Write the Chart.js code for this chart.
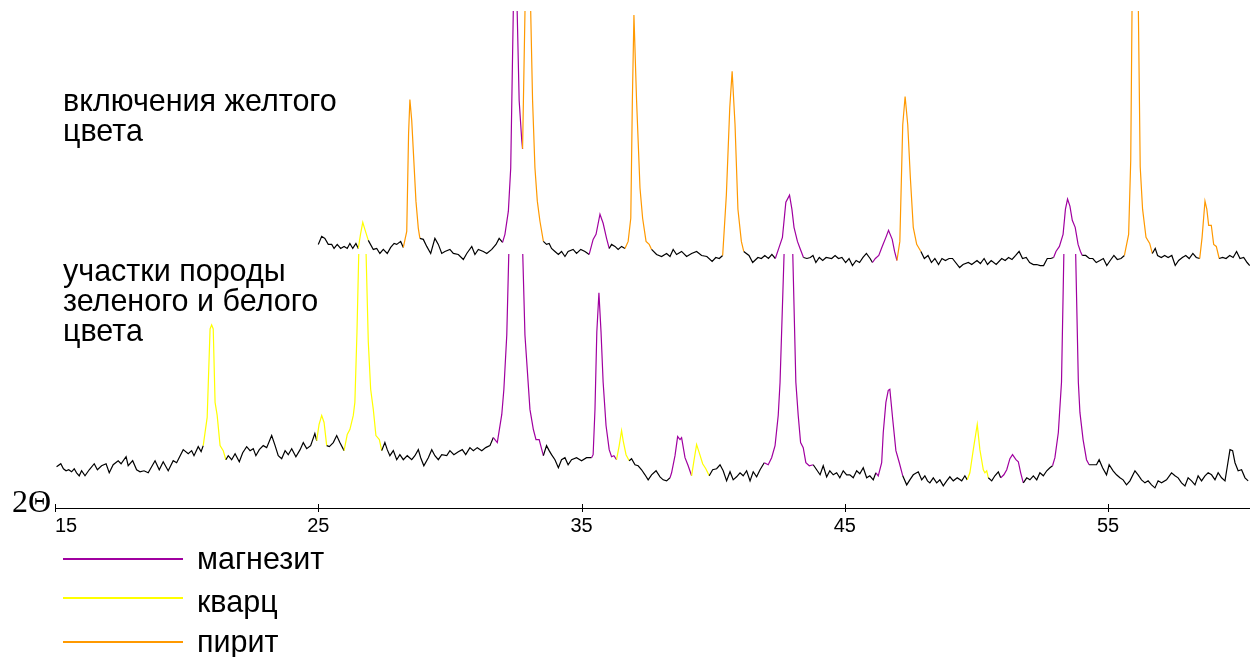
<!DOCTYPE html>
<html>
<head>
<meta charset="utf-8">
<script src="https://cdn.jsdelivr.net/npm/chart.js@4.4.1/dist/chart.umd.min.js"></script>
<style>
    body { margin: 0; background: #fff; }
    #wrap { position: relative; width: 1250px; height: 657px; overflow: hidden; }
    #xrd { position: absolute; left: 0; top: 0; }
    .lbl { position: absolute; font-family: "Liberation Sans", Arial, sans-serif; font-size: 30.5px; line-height: 30px; color: #000; white-space: nowrap; }
    .axisName { position: absolute; left: 12px; top: 486px; font-family: "Liberation Serif", "Times New Roman", serif; font-size: 32px; line-height: 30px; }
    .key { position: absolute; left: 63px; width: 120px; height: 2px; }
</style>
</head>
<body>
<div id="wrap">
    <canvas id="xrd" width="1250" height="657"></canvas>
    <div class="lbl" style="left:63px; top:85px">включения желтого<br>цвета</div>
    <div class="lbl" style="left:63px; top:255px">участки породы<br>зеленого и белого<br>цвета</div>
    <div class="axisName">2&Theta;</div>
    <div class="key" id="key0" style="top:558px"></div>
    <div class="lbl" style="left:197px; top:543px">магнезит</div>
    <div class="key" id="key1" style="top:597px"></div>
    <div class="lbl" style="left:197px; top:586px">кварц</div>
    <div class="key" id="key2" style="top:641px"></div>
    <div class="lbl" style="left:197px; top:626px">пирит</div>
</div>
<script>
// 2-theta tick labels
const tickValues = [15, 25, 35, 45, 55];

const minerals = ['магнезит', 'кварц', 'пирит'];

// lower pattern: green and white rock
const lowerAngle = [
    15.06, 15.22, 15.32, 15.42, 15.52, 15.63, 15.73, 15.82, 15.92, 16.01,
    16.14, 16.30, 16.49, 16.61, 16.77, 16.94, 17.06, 17.21, 17.40, 17.51,
    17.70, 17.78, 17.95, 18.10, 18.23, 18.38, 18.54, 18.80, 18.96, 19.11,
    19.30, 19.49, 19.62, 19.87, 20.06, 20.19, 20.28, 20.44, 20.55, 20.63,
    20.78, 20.89, 20.95, 21.01, 21.08, 21.16, 21.27, 21.39, 21.49, 21.58,
    21.71, 21.84, 22.00, 22.13, 22.28, 22.41, 22.53, 22.63, 22.76, 22.91,
    23.04, 23.23, 23.36, 23.48, 23.61, 23.74, 23.86, 23.99, 24.15, 24.31,
    24.43, 24.56, 24.71, 24.87, 24.94, 25.03, 25.13, 25.22, 25.32, 25.42,
    25.57, 25.70, 25.82, 25.98, 26.10, 26.20, 26.33, 26.39, 26.47, 26.67,
    26.90, 26.99, 27.09, 27.19, 27.32, 27.41, 27.53, 27.62, 27.72, 27.85,
    27.98, 28.10, 28.23, 28.38, 28.55, 28.67, 28.80, 28.89, 29.01, 29.18,
    29.31, 29.43, 29.56, 29.69, 29.88, 30.00, 30.15, 30.32, 30.47, 30.60,
    30.76, 30.89, 31.04, 31.21, 31.36, 31.52, 31.65, 31.80, 31.97, 32.05,
    32.16, 32.49, 32.85, 33.04, 33.17, 33.27, 33.39, 33.55, 33.67, 33.77,
    33.86, 33.99, 34.12, 34.24, 34.37, 34.49, 34.62, 34.81, 35.00, 35.19,
    35.38, 35.44, 35.51, 35.58, 35.66, 35.74, 35.82, 35.93, 36.05, 36.14,
    36.23, 36.33, 36.43, 36.52, 36.58, 36.69, 36.81, 36.90, 37.03, 37.15,
    37.28, 37.41, 37.53, 37.66, 37.83, 37.98, 38.10, 38.23, 38.36, 38.42,
    38.55, 38.65, 38.74, 38.80, 38.93, 39.05, 39.18, 39.27, 39.37, 39.47,
    39.60, 39.72, 39.85, 39.98, 40.13, 40.26, 40.38, 40.51, 40.64, 40.76,
    40.89, 41.02, 41.14, 41.27, 41.40, 41.52, 41.65, 41.78, 41.94, 42.09,
    42.22, 42.35, 42.47, 42.54, 42.88, 43.14, 43.23, 43.32, 43.42, 43.52,
    43.65, 43.80, 43.93, 44.06, 44.18, 44.31, 44.43, 44.56, 44.69, 44.81,
    44.94, 45.07, 45.19, 45.32, 45.45, 45.57, 45.70, 45.83, 45.95, 46.08,
    46.18, 46.27, 46.40, 46.46, 46.56, 46.65, 46.71, 46.82, 46.94, 47.07,
    47.20, 47.35, 47.47, 47.60, 47.79, 47.92, 48.04, 48.14, 48.23, 48.36,
    48.49, 48.61, 48.74, 48.87, 48.99, 49.12, 49.27, 49.44, 49.56, 49.65,
    49.75, 49.88, 50.03, 50.13, 50.26, 50.32, 50.39, 50.45, 50.58, 50.70,
    50.83, 50.92, 51.04, 51.15, 51.27, 51.37, 51.50, 51.59, 51.68, 51.78,
    51.91, 52.03, 52.16, 52.29, 52.41, 52.54, 52.67, 52.79, 52.89, 52.98,
    53.11, 53.23, 53.53, 53.87, 53.93, 54.05, 54.18, 54.28, 54.43, 54.56,
    54.66, 54.79, 54.94, 55.04, 55.19, 55.32, 55.45, 55.57, 55.70, 55.83,
    56.02, 56.14, 56.27, 56.40, 56.52, 56.65, 56.78, 56.90, 57.03, 57.22,
    57.41, 57.54, 57.66, 57.79, 57.92, 58.04, 58.17, 58.30, 58.42, 58.55,
    58.68, 58.80, 58.93, 59.06, 59.18, 59.31, 59.44, 59.52, 59.63, 59.73,
    59.82, 59.94, 60.07, 60.20, 60.32
];
const lowerIntensity = [
    41, 44, 39, 37, 38, 36, 39, 35, 32, 37,
    32, 38, 44, 38, 42, 44, 35, 43, 47, 44,
    51, 42, 47, 38, 36, 37, 35, 47, 38, 46,
    37, 47, 45, 58, 54, 57, 52, 61, 56, 62,
    90, 178, 182, 178, 105, 92, 62, 57, 48, 52,
    48, 54, 46, 55, 61, 57, 59, 52, 58, 62,
    60, 72, 62, 52, 49, 57, 53, 59, 51, 58,
    65, 59, 62, 74, 67, 83, 92, 85, 62, 61,
    65, 72, 65, 57, 73, 78, 92, 105, 175, 405,
    165, 118, 98, 72, 68, 57, 65, 58, 52, 57,
    48, 53, 48, 52, 48, 52, 58, 50, 42, 50,
    58, 52, 48, 53, 52, 57, 53, 56, 58, 53,
    60, 57, 60, 57, 60, 62, 70, 65, 93, 118,
    172, 520, 172, 98, 78, 68, 68, 52, 62, 57,
    53, 48, 40, 48, 50, 43, 48, 50, 47, 50,
    50, 53, 98, 175, 214, 175, 125, 82, 58, 51,
    52, 48, 62, 77, 67, 53, 47, 49, 43, 42,
    38, 33, 28, 33, 37, 31, 28, 27, 30, 35,
    52, 71, 68, 70, 50, 42, 32, 47, 63, 55,
    44, 39, 32, 38, 39, 43, 37, 27, 36, 28,
    31, 35, 32, 37, 27, 36, 31, 38, 45, 43,
    50, 62, 92, 125, 409, 125, 92, 65, 60, 45,
    42, 43, 38, 33, 42, 31, 37, 33, 35, 30,
    37, 33, 33, 30, 37, 34, 40, 30, 32, 28,
    35, 32, 45, 75, 105, 117, 118, 88, 57, 45,
    32, 23, 28, 33, 36, 28, 32, 27, 25, 30,
    25, 28, 22, 27, 31, 27, 30, 27, 32, 28,
    35, 58, 83, 58, 38, 35, 37, 30, 27, 32,
    36, 30, 33, 38, 49, 53, 48, 46, 35, 25,
    30, 28, 32, 28, 35, 32, 37, 40, 42, 50,
    75, 125, 552, 125, 95, 68, 48, 43, 43, 43,
    48, 40, 33, 43, 37, 33, 30, 28, 23, 27,
    37, 33, 28, 25, 27, 23, 20, 27, 25, 28,
    35, 32, 30, 25, 22, 30, 27, 23, 32, 27,
    32, 35, 33, 28, 35, 30, 27, 40, 58, 57,
    45, 37, 38, 30, 27
];
const lowerPhases = [
    ['кварц', 20.63, 21.49], ['кварц', 24.94, 25.32], ['кварц', 25.98, 27.41],
    ['магнезит', 31.65, 33.55], ['магнезит', 35.38, 36.33], ['кварц', 36.33, 36.81],
    ['магнезит', 38.36, 39.18], ['кварц', 39.18, 39.85], ['магнезит', 41.94, 43.80],
    ['магнезит', 46.18, 47.20], ['кварц', 49.65, 50.45], ['магнезит', 50.92, 51.78],
    ['магнезит', 52.89, 54.28]
];

// upper pattern: yellow inclusions (shifted up)
const upperAngle = [
    25.00, 25.13, 25.25, 25.38, 25.51, 25.60, 25.72, 25.85, 25.98, 26.10,
    26.20, 26.31, 26.43, 26.52, 26.61, 26.69, 26.77, 26.90, 27.09, 27.22,
    27.34, 27.47, 27.62, 27.75, 27.88, 27.98, 28.13, 28.23, 28.36, 28.43,
    28.48, 28.55, 28.63, 28.71, 28.80, 28.86, 28.99, 29.12, 29.27, 29.43,
    29.56, 29.69, 29.81, 30.00, 30.13, 30.32, 30.51, 30.64, 30.83, 30.95,
    31.08, 31.27, 31.40, 31.59, 31.75, 31.87, 32.00, 32.09, 32.22, 32.31,
    32.47, 32.63, 32.73, 32.76, 32.95, 33.14, 33.23, 33.32, 33.42, 33.55,
    33.67, 33.77, 33.86, 33.99, 34.12, 34.24, 34.37, 34.49, 34.68, 34.81,
    34.97, 35.13, 35.29, 35.44, 35.55, 35.70, 35.82, 35.95, 36.05, 36.14,
    36.27, 36.39, 36.52, 36.65, 36.77, 36.87, 36.93, 36.99, 37.09, 37.22,
    37.32, 37.45, 37.57, 37.66, 37.85, 38.04, 38.23, 38.36, 38.48, 38.61,
    38.80, 38.99, 39.18, 39.37, 39.56, 39.76, 39.96, 40.10, 40.23, 40.36,
    40.50, 40.63, 40.72, 40.83, 40.94, 41.07, 41.16, 41.36, 41.50, 41.70,
    41.83, 41.96, 42.10, 42.23, 42.36, 42.49, 42.63, 42.76, 42.90, 42.99,
    43.07, 43.20, 43.30, 43.43, 43.56, 43.69, 43.79, 43.90, 44.03, 44.16,
    44.29, 44.50, 44.63, 44.76, 44.89, 45.03, 45.16, 45.29, 45.43, 45.56,
    45.69, 45.82, 45.96, 46.05, 46.16, 46.29, 46.42, 46.56, 46.66, 46.80,
    46.89, 46.98, 47.09, 47.20, 47.29, 47.39, 47.49, 47.60, 47.73, 47.89,
    48.02, 48.16, 48.29, 48.42, 48.56, 48.69, 48.82, 48.96, 49.09, 49.36,
    49.49, 49.69, 49.82, 50.02, 50.15, 50.29, 50.42, 50.56, 50.75, 50.96,
    51.09, 51.22, 51.35, 51.49, 51.62, 51.75, 51.89, 52.02, 52.16, 52.29,
    52.42, 52.55, 52.69, 52.82, 52.93, 53.02, 53.15, 53.29, 53.38, 53.46,
    53.55, 53.64, 53.75, 53.86, 53.95, 54.02, 54.15, 54.29, 54.42, 54.55,
    54.69, 54.82, 54.95, 55.08, 55.22, 55.35, 55.49, 55.62, 55.78, 55.86,
    56.01, 56.22, 56.31, 56.44, 56.58, 56.68, 56.79, 56.88, 57.02, 57.15,
    57.28, 57.42, 57.55, 57.68, 57.82, 57.95, 58.08, 58.22, 58.35, 58.48,
    58.57, 58.68, 58.75, 58.82, 58.92, 59.01, 59.11, 59.22, 59.35, 59.48,
    59.62, 59.75, 59.88, 60.01, 60.15, 60.28, 60.38
];
const upperIntensity = [
    262, 270, 268, 262, 262, 258, 262, 258, 260, 258,
    263, 258, 263, 258, 273, 284, 277, 266, 257, 258,
    253, 257, 253, 259, 263, 262, 265, 259, 275, 372,
    406, 385, 345, 305, 278, 268, 267, 260, 253, 268,
    262, 253, 255, 257, 253, 252, 247, 253, 260, 252,
    257, 255, 253, 257, 262, 268, 264, 272, 295, 338,
    594, 405, 365, 357, 641, 405, 338, 305, 285, 265,
    262, 263, 258, 255, 252, 255, 250, 255, 257, 253,
    257, 255, 252, 267, 272, 292, 283, 268, 258, 262,
    260, 257, 260, 258, 265, 288, 405, 490, 405, 318,
    288, 265, 262, 257, 252, 250, 253, 250, 257, 252,
    255, 250, 253, 255, 251, 250, 245, 249, 248, 251,
    311, 398, 434, 381, 297, 265, 255, 251, 244, 249,
    248, 251, 248, 252, 248, 258, 269, 304, 311, 297,
    279, 265, 258, 249, 248, 249, 251, 244, 249, 246,
    249, 248, 251, 248, 249, 244, 248, 241, 246, 244,
    249, 253, 248, 244, 248, 251, 260, 269, 276, 267,
    255, 246, 265, 381, 409, 381, 328, 279, 262, 255,
    248, 251, 244, 248, 242, 248, 246, 248, 248, 239,
    242, 244, 242, 246, 243, 248, 242, 246, 242, 248,
    246, 249, 247, 251, 255, 248, 249, 244, 242, 242,
    241, 241, 248, 248, 249, 255, 260, 272, 297, 307,
    300, 286, 279, 262, 255, 251, 251, 248, 248, 244,
    246, 248, 241, 246, 251, 247, 248, 251, 272, 346,
    805, 339, 297, 269, 263, 253, 258, 251, 249, 251,
    249, 251, 241, 246, 249, 251, 248, 253, 249, 248,
    269, 305, 297, 281, 281, 262, 260, 248, 249, 248,
    251, 249, 255, 248, 249, 244, 241
];
const upperPhases = [
    ['кварц', 26.52, 26.90], ['пирит', 28.23, 28.86], ['магнезит', 32.00, 32.76],
    ['пирит', 32.76, 33.55], ['магнезит', 35.29, 36.05], ['пирит', 36.65, 37.66],
    ['пирит', 40.36, 41.16], ['магнезит', 42.36, 43.43], ['магнезит', 46.05, 46.98],
    ['пирит', 46.98, 47.89], ['магнезит', 52.93, 54.02], ['пирит', 55.62, 56.68],
    ['пирит', 58.48, 59.22]
];

const mineralColors = {'магнезит': '#a000a0', 'кварц': '#ffff00', 'пирит': '#ff9900'};

for (let i = 0; i < minerals.length; i++)
    document.getElementById('key' + i).style.background = mineralColors[minerals[i]];

function phaseColor(phases, angle) {
    for (let p of phases) {
        if (angle >= p[1] && angle <= p[2])
            return mineralColors[p[0]];
    }
    return '#000000';
}

function makeTrace(angles, values, phases, clip) {
    return {
        data: angles.map((a, i) => ({x: a, y: values[i]})),
        borderColor: '#000000',
        borderWidth: 1.2,
        pointRadius: 0,
        tension: 0,
        clip: clip,
        segment: {
            borderColor: ctx => phaseColor(phases, (angles[ctx.p0DataIndex] + angles[ctx.p1DataIndex]) / 2)
        }
    };
}

// small crossing tick marks on the 2-theta axis
const tickCross = {
    id: 'tickCross',
    afterDraw(chart) {
        let xs = chart.scales.x;
        let ctx = chart.ctx;
        let y = chart.chartArea.bottom;
        ctx.save();
        ctx.strokeStyle = '#000';
        ctx.lineWidth = 1;
        for (let v of tickValues) {
            let px = Math.round(xs.getPixelForValue(v)) + 0.5;
            ctx.beginPath();
            ctx.moveTo(px, y - 4);
            ctx.lineTo(px, y + 4);
            ctx.stroke();
        }
        ctx.restore();
    }
};

new Chart(document.getElementById('xrd'), {
    type: 'line',
    data: {
        datasets: [
            makeTrace(lowerAngle, lowerIntensity, lowerPhases, {left: 0, top: -242, right: 0, bottom: 0}),
            makeTrace(upperAngle, upperIntensity, upperPhases, 1)
        ]
    },
    plugins: [tickCross],
    options: {
        responsive: false,
        animation: false,
        devicePixelRatio: 1,
        layout: {padding: {left: 55, right: 0, top: 12, bottom: 113}},
        plugins: {legend: {display: false}, tooltip: {enabled: false}},
        scales: {
            x: {
                type: 'linear',
                min: 15,
                max: 60.39,
                afterBuildTicks: scale => {
                    scale.ticks = tickValues.map(v => ({value: v}));
                },
                grid: {drawOnChartArea: false, drawTicks: false},
                border: {display: true, color: '#000', width: 1},
                ticks: {
                    padding: 6,
                    color: '#000',
                    maxRotation: 0,
                    autoSkip: false,
                    // first label sits right of its tick, as in the original
                    callback: v => v === tickValues[0] ? '    ' + v : '' + v,
                    font: {family: 'Liberation Sans, Arial', size: 20}
                }
            },
            y: {
                display: false,
                min: 0,
                max: 493
            }
        }
    }
});
</script>
</body>
</html>
